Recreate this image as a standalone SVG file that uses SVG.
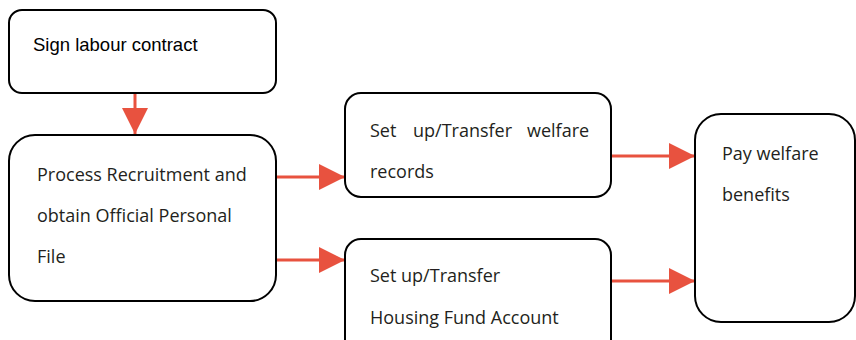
<svg xmlns="http://www.w3.org/2000/svg" width="856" height="340" viewBox="0 0 856 340">
  <style>
    .box { fill: #ffffff; stroke: #000000; stroke-width: 2; }
    .lbl { font-family: "Open Sans", "DejaVu Sans", sans-serif; font-size: 18px; fill: #231f20; }
    .lbl-a { font-family: "Liberation Sans", Arial, sans-serif; font-size: 18.5px; fill: #000000; }
    .conn { stroke: #e8523f; stroke-width: 3; fill: none; }
  </style>
  <defs>
    <marker id="head" viewBox="0 0 26 26" refX="26" refY="13" markerWidth="26" markerHeight="26" markerUnits="userSpaceOnUse" orient="auto">
      <path d="M0,0 L26,13 L0,26 Z" fill="#e8523f"/>
    </marker>
  </defs>
  <rect width="856" height="340" fill="#ffffff"/>

  <g id="connectors">
    <line class="conn" x1="135" y1="94" x2="135" y2="134" marker-end="url(#head)"/>
    <line class="conn" x1="276" y1="177" x2="345" y2="177" marker-end="url(#head)"/>
    <line class="conn" x1="276" y1="260" x2="345" y2="260" marker-end="url(#head)"/>
    <line class="conn" x1="611" y1="156" x2="695" y2="156" marker-end="url(#head)"/>
    <line class="conn" x1="611" y1="281" x2="695" y2="281" marker-end="url(#head)"/>
  </g>

  <g id="sign-contract">
    <rect class="box" x="9" y="10" width="267" height="83" rx="13"/>
    <text class="lbl-a" x="33" y="51">Sign labour contract</text>
  </g>

  <g id="recruitment">
    <rect class="box" x="9" y="135" width="267" height="166" rx="26"/>
    <text class="lbl" x="37" y="181">Process Recruitment and</text>
    <text class="lbl" x="37" y="222">obtain Official Personal</text>
    <text class="lbl" x="37" y="263">File</text>
  </g>

  <g id="welfare-records">
    <rect class="box" x="345" y="93" width="266" height="104" rx="16"/>
    <text class="lbl" y="137"><tspan x="370">Set</tspan><tspan x="413">up/Transfer</tspan><tspan x="527">welfare</tspan></text>
    <text class="lbl" x="370" y="178">records</text>
  </g>

  <g id="housing-fund">
    <rect class="box" x="345" y="239" width="266" height="120" rx="16"/>
    <text class="lbl" x="370" y="282">Set up/Transfer</text>
    <text class="lbl" x="370" y="324">Housing Fund Account</text>
  </g>

  <g id="pay-benefits">
    <rect class="box" x="695" y="114" width="160" height="208" rx="26"/>
    <text class="lbl" x="722" y="160">Pay welfare</text>
    <text class="lbl" x="722" y="201">benefits</text>
  </g>
</svg>
